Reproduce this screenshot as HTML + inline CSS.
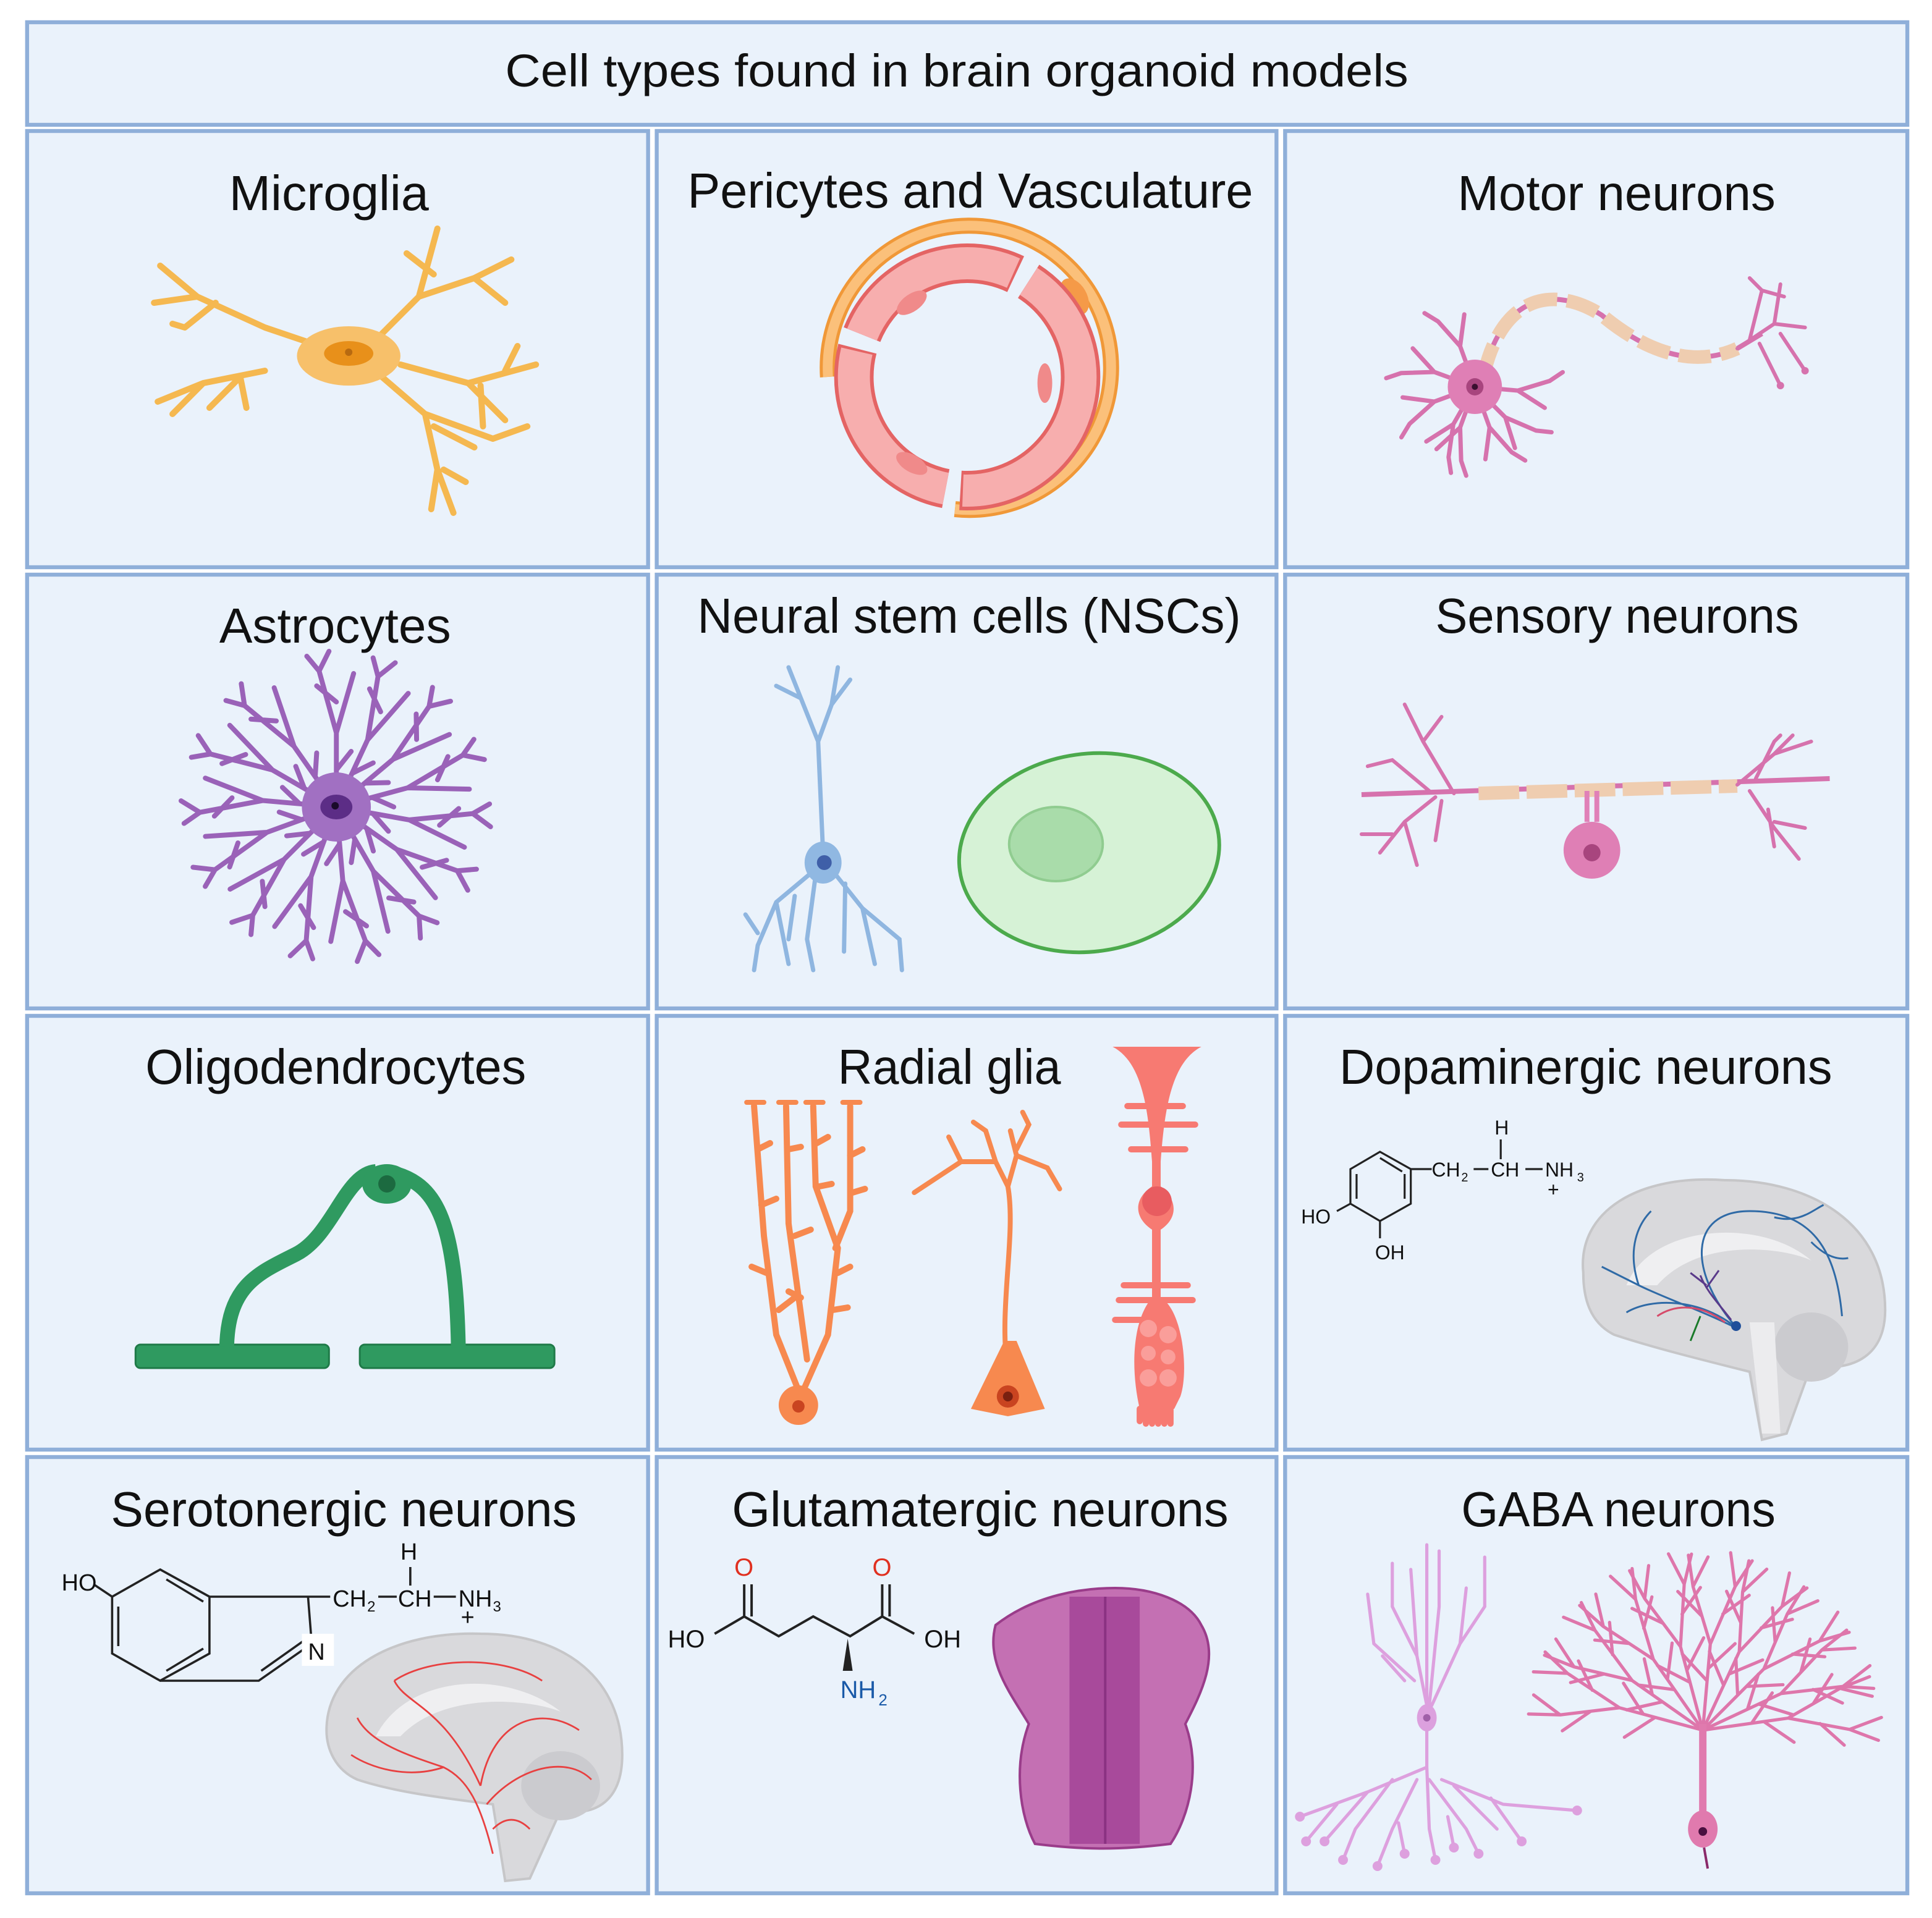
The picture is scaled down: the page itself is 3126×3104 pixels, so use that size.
<!DOCTYPE html>
<html><head><meta charset="utf-8"><style>
html,body{margin:0;padding:0;background:#fff}
svg{display:block}
text{font-family:"Liberation Sans",sans-serif;fill:#111}
</style></head><body>
<svg width="3126" height="3104" viewBox="0 0 3126 3104" xmlns="http://www.w3.org/2000/svg">
<defs>
<g id="ab"><path d="M0,0 L0,-60 L-14,-110 M0,-60 L14,-108 M0,-85 L-16,-98 M0,-30 L12,-45 M-14,-110 L-24,-122 M-14,-110 L-6,-126" fill="none" stroke="#9a62b8" stroke-width="4" stroke-linecap="round"/></g>
<g id="md"><path d="M0,0 L0,-35 L-10,-60 M0,-35 L12,-58 M-10,-60 L-18,-70" fill="none" stroke="#d672ad" stroke-width="3.5" stroke-linecap="round"/></g>
<g id="pk"><path d="M0,0 L0,-70 L-18,-115 M0,-70 L16,-118 M-9,-92 L-30,-110 M8,-95 L28,-112 M0,-40 L-22,-60 M0,-50 L20,-72 M-18,-115 L-24,-140 M-18,-115 L-8,-140 M16,-118 L10,-145 M16,-118 L28,-140" fill="none" stroke="#de76ab" stroke-width="2.6" stroke-linecap="round"/></g>
</defs>
<g transform="scale(1.9936,2)">
<!-- grid -->
<g fill="#eaf2fb" stroke="#8fafd9" stroke-width="3.2">
<rect x="22" y="18" width="1526" height="83"/>
<rect x="22" y="106" width="504" height="353"/><rect x="533" y="106" width="503" height="353"/><rect x="1043" y="106" width="505" height="353"/>
<rect x="22" y="465" width="504" height="351"/><rect x="533" y="465" width="503" height="351"/><rect x="1043" y="465" width="505" height="351"/>
<rect x="22" y="822" width="504" height="351"/><rect x="533" y="822" width="503" height="351"/><rect x="1043" y="822" width="505" height="351"/>
<rect x="22" y="1179" width="504" height="353"/><rect x="533" y="1179" width="503" height="353"/><rect x="1043" y="1179" width="505" height="353"/>
</g>
<!-- labels -->
<g font-size="40">
<text x="410" y="70" font-size="37" textLength="733" lengthAdjust="spacingAndGlyphs">Cell types found in brain organoid models</text>
<text x="186" y="170" textLength="162" lengthAdjust="spacingAndGlyphs">Microglia</text>
<text x="558" y="168" textLength="459" lengthAdjust="spacingAndGlyphs">Pericytes and Vasculature</text>
<text x="1183" y="170" textLength="258" lengthAdjust="spacingAndGlyphs">Motor neurons</text>
<text x="178" y="520" textLength="188" lengthAdjust="spacingAndGlyphs">Astrocytes</text>
<text x="566" y="512" textLength="441" lengthAdjust="spacingAndGlyphs">Neural stem cells (NSCs)</text>
<text x="1165" y="512" textLength="295" lengthAdjust="spacingAndGlyphs">Sensory neurons</text>
<text x="118" y="877" textLength="309" lengthAdjust="spacingAndGlyphs">Oligodendrocytes</text>
<text x="680" y="877" textLength="181" lengthAdjust="spacingAndGlyphs">Radial glia</text>
<text x="1087" y="877" textLength="400" lengthAdjust="spacingAndGlyphs">Dopaminergic neurons</text>
<text x="90" y="1235" textLength="378" lengthAdjust="spacingAndGlyphs">Serotonergic neurons</text>
<text x="594" y="1235" textLength="403" lengthAdjust="spacingAndGlyphs">Glutamatergic neurons</text>
<text x="1186" y="1235" textLength="255" lengthAdjust="spacingAndGlyphs">GABA neurons</text>
</g>

<!-- Microglia -->
<g fill="none" stroke="#f5b850" stroke-width="5" stroke-linecap="round" stroke-linejoin="round">
<path d="M283,288 L215,265 L160,240 L130,215 M160,240 L125,245 M175,245 L150,265 M150,265 L140,262 M215,300 L165,310 L128,325 M165,310 L140,335 M195,305 L170,330 M195,305 L200,330"/>
<path d="M305,275 L340,240 L355,185 M340,240 L385,225 L415,210 M385,225 L410,245 M352,222 L330,205"/>
<path d="M325,295 L380,310 L435,295 M380,310 L410,340 M390,312 L392,345 M410,300 L420,280"/>
<path d="M310,305 L345,335 L355,380 L368,415 M355,380 L350,412 M345,335 L400,355 L428,345 M352,345 L385,362 M360,380 L378,390"/>
</g>
<ellipse cx="283" cy="288" rx="42" ry="24" fill="#f7c06a"/>
<ellipse cx="283" cy="286" rx="20" ry="10" fill="#e8901a"/>
<circle cx="283" cy="285" r="3" fill="#b86a10"/>

<!-- Pericytes -->
<path d="M672,305 A115,115 0 1 1 775,412" fill="none" stroke="#f09838" stroke-width="13"/>
<path d="M672,305 A115,115 0 1 1 775,412" fill="none" stroke="#fbc07a" stroke-width="8"/>
<ellipse cx="872" cy="240" rx="10" ry="16" fill="#f59a48" transform="rotate(-30 872 240)"/>
<circle cx="785" cy="305" r="92" fill="none" stroke="#e46464" stroke-width="32" stroke-dasharray="150 12"/>
<circle cx="785" cy="305" r="92" fill="none" stroke="#f7aeae" stroke-width="26" stroke-dasharray="148 14"/>
<ellipse cx="740" cy="245" rx="14" ry="7" fill="#f08a8a" transform="rotate(-35 740 245)"/>
<ellipse cx="848" cy="310" rx="6" ry="16" fill="#f08a8a"/>
<ellipse cx="740" cy="375" rx="14" ry="7" fill="#f08a8a" transform="rotate(30 740 375)"/>

<!-- Motor neuron -->
<g>
<use href="#md" transform="translate(1197,313) rotate(-20)"/>
<use href="#md" transform="translate(1197,313) rotate(-70)"/>
<use href="#md" transform="translate(1197,313) rotate(-110)"/>
<use href="#md" transform="translate(1197,313) rotate(-150)"/>
<use href="#md" transform="translate(1197,313) rotate(160)"/>
<use href="#md" transform="translate(1197,313) rotate(200)"/>
<use href="#md" transform="translate(1197,313) rotate(135)"/>
<use href="#md" transform="translate(1197,313) rotate(95)"/>
<path d="M1205,300 C1220,240 1260,230 1300,255 C1330,280 1370,300 1410,282 L1430,270" fill="none" stroke="#d672ad" stroke-width="4"/>
<path d="M1205,300 C1220,240 1260,230 1300,255 C1330,280 1370,300 1410,282" fill="none" stroke="#efcdb0" stroke-width="11" stroke-dasharray="26 8" stroke-dashoffset="-30"/>
<path d="M1410,282 L1440,262 L1465,265 M1440,262 L1445,230 M1420,275 L1430,235 L1420,225 M1430,235 L1448,240 M1428,278 L1445,312 M1445,270 L1465,300" fill="none" stroke="#d672ad" stroke-width="3" stroke-linecap="round"/>
<circle cx="1465" cy="300" r="3" fill="#d672ad"/><circle cx="1445" cy="312" r="3" fill="#d672ad"/>
<circle cx="1197" cy="313" r="22" fill="#df7fb5"/>
<circle cx="1197" cy="313" r="7" fill="#a8457e"/><circle cx="1197" cy="313" r="2.5" fill="#3a1030"/>
</g>

<!-- Astrocyte -->
<g>
<use href="#ab" transform="translate(273,653) rotate(0)"/>
<use href="#ab" transform="translate(273,653) rotate(25)"/>
<use href="#ab" transform="translate(273,653) rotate(50)"/>
<use href="#ab" transform="translate(273,653) rotate(75)"/>
<use href="#ab" transform="translate(273,653) rotate(100)"/>
<use href="#ab" transform="translate(273,653) rotate(125)"/>
<use href="#ab" transform="translate(273,653) rotate(150)"/>
<use href="#ab" transform="translate(273,653) rotate(175)"/>
<use href="#ab" transform="translate(273,653) rotate(200)"/>
<use href="#ab" transform="translate(273,653) rotate(225)"/>
<use href="#ab" transform="translate(273,653) rotate(250)"/>
<use href="#ab" transform="translate(273,653) rotate(275)"/>
<use href="#ab" transform="translate(273,653) rotate(300)"/>
<use href="#ab" transform="translate(273,653) rotate(325)"/>
<circle cx="273" cy="653" r="28" fill="#a170c2"/>
<ellipse cx="273" cy="653" rx="13" ry="10" fill="#5c2d86"/><circle cx="272" cy="652" r="3" fill="#1a0a2a"/>
</g>

<!-- NSC neuron -->
<g fill="none" stroke="#8fb6e0" stroke-width="3.5" stroke-linecap="round">
<path d="M668,690 L664,600 L650,565 L630,555 M664,600 L675,570 L690,550 M650,565 L640,540 M675,570 L680,540"/>
<path d="M660,705 L630,730 L615,765 L612,785 M630,730 L640,780 M615,755 L605,740 M662,708 L655,760 L660,785 M676,705 L700,735 L710,780 M700,735 L730,760 L732,785 M686,715 L685,770 M645,725 L640,760"/>
</g>
<ellipse cx="668" cy="698" rx="15" ry="17" fill="#90b8e2"/>
<circle cx="669" cy="698" r="6" fill="#3f5fa8"/>
<!-- green cell -->
<ellipse cx="884" cy="690" rx="106" ry="80" fill="#d6f2d6" stroke="#4caa4c" stroke-width="3" transform="rotate(-8 884 690)"/>
<ellipse cx="857" cy="683" rx="38" ry="30" fill="#a9dcaa" stroke="#90cc90" stroke-width="2"/>

<!-- Sensory neuron -->
<path d="M1105,643 L1485,630" stroke="#d672ad" stroke-width="4"/>
<path d="M1200,642 L1410,636" stroke="#efcdb0" stroke-width="11" stroke-dasharray="33 6"/>
<g fill="none" stroke="#d672ad" stroke-width="3" stroke-linecap="round">
<path d="M1180,642 L1155,600 L1140,570 M1155,600 L1170,580 M1160,640 L1130,615 L1110,620 M1165,645 L1140,665 L1120,690 M1140,665 L1150,700 M1130,675 L1105,675 M1170,648 L1165,680"/>
<path d="M1410,635 L1440,610 L1455,595 M1440,610 L1470,600 M1425,630 L1440,600 L1445,595 M1420,640 L1440,670 L1460,695 M1440,665 L1465,670 M1435,655 L1440,685"/>
</g>
<path d="M1288,640 L1288,665 M1296,640 L1296,665" stroke="#e080b8" stroke-width="4"/>
<circle cx="1292" cy="688" r="23" fill="#df7fb5"/>
<circle cx="1292" cy="690" r="7" fill="#a8457e"/>

<!-- Oligodendrocyte -->
<g fill="#2f9a60" stroke="#1f7a48" stroke-width="1.5">
<rect x="110" y="1088" width="157" height="19" rx="4"/>
<rect x="292" y="1088" width="158" height="19" rx="4"/>
</g>
<path d="M184,1090 C185,1040 210,1030 240,1015 C270,1000 280,950 305,948 M322,950 C355,960 370,990 372,1090" fill="none" stroke="#2f9a60" stroke-width="12"/>
<ellipse cx="314" cy="958" rx="20" ry="16" fill="#2f9a60"/>
<circle cx="314" cy="958" r="7" fill="#1c6a40"/>

<!-- Radial glia left -->
<g fill="none" stroke="#f7894f" stroke-width="5" stroke-linecap="round">
<path d="M612,895 L620,1000 L630,1080 L648,1125 M638,895 L640,990 L655,1100 M660,895 L662,960 L680,1010 L672,1080 L652,1125 M690,895 L690,980 L678,1010"/>
<path d="M615,930 L625,925 M618,975 L630,970 M622,1030 L610,1025 M632,1060 L645,1050 M640,930 L650,928 M645,1000 L658,995 M650,1050 L640,1045 M663,925 L672,920 M665,960 L675,958 M680,1030 L690,1025 M676,1060 L688,1058 M690,935 L700,930 M692,965 L702,962"/>
<path d="M606,892 L620,892 M632,892 L646,892 M654,892 L668,892 M684,892 L698,892" stroke-width="4"/>
</g>
<ellipse cx="648" cy="1137" rx="16" ry="16" fill="#f7894f"/><circle cx="648" cy="1138" r="5" fill="#c94420"/>
<!-- Radial glia middle -->
<g fill="none" stroke="#f7894f" stroke-width="4" stroke-linecap="round">
<path d="M818,1110 C810,1060 825,1000 818,960 L808,940 M818,960 L825,935 L820,915 M808,940 L780,940 L742,965 M780,940 L770,920 M808,940 L800,915 L790,908 M825,935 L850,945 L860,962 M825,930 L835,910 L830,900"/>
</g>
<path d="M815,1085 L825,1085 L848,1140 L818,1146 L788,1140 Z" fill="#f7894f"/>
<circle cx="818" cy="1130" r="9" fill="#c94420"/><circle cx="818" cy="1130" r="4" fill="#7a2010"/>
<!-- Radial glia right -->
<g fill="#f77a72">
<path d="M903,847 L975,847 C950,860 945,900 942,940 L942,960 C955,970 957,985 942,995 L942,1050 C960,1060 965,1110 958,1130 L953,1140 L925,1140 C918,1110 918,1070 935,1050 L935,995 C920,985 920,970 935,960 L935,940 C932,900 928,860 903,847 Z"/>
</g>
<g stroke="#f77a72" stroke-width="5" stroke-linecap="round">
<path d="M915,895 L960,895 M910,910 L970,910 M918,930 L962,930 M912,1040 L964,1040 M908,1052 L968,1052 M905,1068 L935,1068 M925,1150 L925,1140 M930,1152 L930,1140 M935,1152 L935,1140 M940,1152 L940,1140 M945,1152 L945,1140 M950,1152 L950,1140"/>
</g>
<circle cx="939" cy="972" r="12" fill="#e85c60"/>
<g fill="#fa9e9a"><circle cx="932" cy="1075" r="7"/><circle cx="948" cy="1080" r="7"/><circle cx="932" cy="1095" r="6"/><circle cx="948" cy="1098" r="6"/><circle cx="932" cy="1115" r="7"/><circle cx="948" cy="1115" r="7"/></g>

<!-- Dopamine structure -->
<g fill="none" stroke="#222" stroke-width="1.6">
<path d="M1120,932 L1145,946 L1145,974 L1120,988 L1096,974 L1096,946 Z M1140,950 L1140,970 M1101,950 L1101,970 M1120,937 L1138,948"/>
<path d="M1145,946 L1162,946 M1196,946 L1208,946 M1238,946 L1252,946 M1218,922 L1218,938 M1096,974 L1085,980 M1120,988 L1120,1002"/>
</g>
<g font-size="16">
<text x="1162" y="952">CH</text><text x="1186" y="956" font-size="10">2</text>
<text x="1210" y="952">CH</text><text x="1254" y="952">NH</text><text x="1280" y="956" font-size="10">3</text>
<text x="1213" y="918">H</text><text x="1256" y="968">+</text>
<text x="1056" y="990">HO</text><text x="1116" y="1019">OH</text>
</g>
<!-- Dopamine brain -->
<path d="M1285,1030 C1280,980 1330,950 1400,955 C1470,955 1530,990 1530,1060 C1530,1100 1500,1110 1470,1105 L1450,1160 L1430,1165 L1420,1110 C1380,1100 1340,1090 1310,1080 C1290,1070 1285,1050 1285,1030 Z" fill="#d9d9dc" stroke="#c6c6c8" stroke-width="2"/>
<path d="M1320,1040 C1340,990 1430,985 1470,1020 C1450,1010 1380,1000 1345,1040 Z" fill="#efeff1"/>
<ellipse cx="1470" cy="1090" rx="30" ry="28" fill="#cbcbcf"/>
<path d="M1420,1070 L1430,1160 L1445,1160 L1440,1070 Z" fill="#ececee"/>
<g fill="none" stroke="#2f6aa6" stroke-width="1.5">
<path d="M1410,1075 C1380,1060 1350,1050 1330,1040 C1320,1010 1330,990 1340,980 M1410,1075 C1370,1030 1370,980 1420,980 C1470,980 1490,1010 1495,1065 M1440,985 C1460,990 1470,980 1480,975 M1470,1005 C1480,1015 1490,1020 1500,1018 M1330,1040 L1300,1025 M1410,1075 C1380,1050 1340,1050 1320,1062"/>
</g>
<path d="M1400,1070 C1380,1055 1360,1055 1345,1065" fill="none" stroke="#d64a6a" stroke-width="1.5"/>
<path d="M1405,1068 C1395,1055 1385,1045 1380,1032 M1385,1040 L1372,1030 M1385,1042 L1395,1028" fill="none" stroke="#5a3a8a" stroke-width="1.5"/>
<path d="M1380,1065 L1372,1085" stroke="#1a7a2a" stroke-width="1.5"/>
<circle cx="1409" cy="1073" r="4" fill="#1f4f9a"/>

<!-- Serotonin structure -->
<g fill="none" stroke="#222" stroke-width="1.8">
<path d="M130,1270 L170,1292 L170,1338 L130,1360 L91,1338 L91,1292 Z M96,1300 L96,1332 M135,1278 L165,1296 M135,1352 L165,1334"/>
<path d="M170,1292 L250,1292 L253,1330 L210,1360 L130,1360 M212,1352 L246,1328 M250,1292 L268,1292 M76,1282 L91,1292 M307,1292 L322,1292 M352,1292 L370,1292 M333,1268 L333,1283"/>
</g>
<rect x="245" y="1322" width="26" height="26" fill="#fff"/>
<g font-size="19">
<text x="50" y="1287">HO</text><text x="250" y="1343">N</text>
<text x="270" y="1300">CH</text><text x="298" y="1304" font-size="12">2</text>
<text x="323" y="1300">CH</text><text x="372" y="1300">NH</text><text x="400" y="1304" font-size="12">3</text>
<text x="325" y="1262">H</text><text x="374" y="1315">+</text>
</g>
<!-- Serotonin brain -->
<path d="M265,1400 C265,1350 320,1320 390,1322 C460,1322 505,1360 505,1420 C505,1460 480,1470 455,1465 L430,1520 L410,1522 L400,1460 C360,1455 320,1450 290,1440 C272,1432 265,1415 265,1400 Z" fill="#d9d9dc" stroke="#c6c6c8" stroke-width="2"/>
<path d="M305,1405 C330,1355 410,1350 455,1385 C430,1375 360,1368 325,1405 Z" fill="#efeff1"/>
<ellipse cx="455" cy="1445" rx="32" ry="28" fill="#cbcbcf"/>
<g fill="none" stroke="#e84040" stroke-width="1.4">
<path d="M400,1500 C390,1460 380,1440 360,1430 C330,1420 300,1410 290,1390 M390,1445 C360,1380 330,1380 320,1360 M390,1445 C400,1390 440,1380 470,1400 M395,1460 C420,1430 460,1420 480,1440 M360,1430 C330,1440 300,1430 285,1420 M320,1360 C350,1340 410,1340 440,1360 M400,1480 C410,1470 420,1470 430,1480"/>
</g>

<!-- Glutamate -->
<g fill="none" stroke="#222" stroke-width="2">
<path d="M580,1322 L604,1308 L632,1324 L660,1308 L690,1324 L716,1308 L742,1322 M604,1308 L604,1282 M610,1308 L610,1282 M716,1308 L716,1282 M722,1308 L722,1282"/>
</g>
<path d="M688,1326 L684,1352 L692,1352 Z" fill="#222"/>
<g font-size="20">
<text x="542" y="1333">HO</text><text x="750" y="1333">OH</text>
<text x="596" y="1275" fill="#e03020" style="fill:#e03020">O</text><text x="708" y="1275" style="fill:#e03020">O</text>
<text x="682" y="1374" style="fill:#1a5aa8">NH</text><text x="713" y="1380" font-size="13" style="fill:#1a5aa8">2</text>
</g>
<path d="M808,1315 C840,1290 880,1285 905,1285 C935,1285 965,1295 975,1315 C990,1340 975,1370 962,1395 C975,1430 965,1470 950,1492 C910,1497 880,1497 840,1492 C828,1470 822,1430 835,1395 C820,1370 800,1345 808,1315 Z" fill="#c470b3" stroke="#9a3c8a" stroke-width="2"/>
<path d="M868,1292 L925,1292 L925,1492 L868,1492 Z" fill="#a84a9b"/>
<path d="M897,1292 L897,1492" stroke="#8a3282" stroke-width="2"/>

<!-- GABA left neuron -->
<g fill="none" stroke="#dda0de" stroke-width="2.6" stroke-linecap="round">
<path d="M1158,1380 L1150,1340 L1130,1300 L1130,1265 M1150,1340 L1145,1270 M1158,1380 L1158,1250 M1160,1380 L1168,1300 L1168,1255 M1162,1380 L1185,1330 L1190,1285 M1185,1330 L1205,1300 L1205,1260 M1148,1360 L1115,1330 L1110,1290 M1140,1360 L1122,1340"/>
<path d="M1158,1400 L1158,1430 L1110,1450 L1055,1470 M1110,1450 L1075,1490 M1130,1440 L1100,1480 L1090,1505 M1150,1440 L1130,1480 L1118,1510 M1158,1430 L1160,1480 L1165,1505 M1160,1440 L1190,1480 L1200,1500 M1170,1440 L1220,1460 L1280,1465 M1210,1455 L1235,1490 M1180,1445 L1215,1480 M1135,1475 L1140,1500 M1175,1470 L1180,1495 M1085,1460 L1060,1490"/>
</g>
<g fill="#dda0de"><circle cx="1055" cy="1470" r="4"/><circle cx="1075" cy="1490" r="4"/><circle cx="1090" cy="1505" r="4"/><circle cx="1118" cy="1510" r="4"/><circle cx="1165" cy="1505" r="4"/><circle cx="1200" cy="1500" r="4"/><circle cx="1280" cy="1465" r="4"/><circle cx="1235" cy="1490" r="4"/><circle cx="1060" cy="1490" r="4"/><circle cx="1140" cy="1500" r="4"/><circle cx="1180" cy="1495" r="4"/></g>
<ellipse cx="1158" cy="1390" rx="8" ry="11" fill="#dca0de"/><circle cx="1158" cy="1390" r="3" fill="#a060a8"/>
<!-- Purkinje -->
<g>
<use href="#pk" transform="translate(1382,1400) rotate(-75)"/>
<use href="#pk" transform="translate(1382,1400) rotate(-55)"/>
<use href="#pk" transform="translate(1382,1400) rotate(-35)"/>
<use href="#pk" transform="translate(1382,1400) rotate(-15)"/>
<use href="#pk" transform="translate(1382,1400) rotate(5)"/>
<use href="#pk" transform="translate(1382,1400) rotate(25)"/>
<use href="#pk" transform="translate(1382,1400) rotate(45)"/>
<use href="#pk" transform="translate(1382,1400) rotate(65)"/>
<use href="#pk" transform="translate(1382,1400) rotate(82)"/>
<path d="M1382,1470 L1382,1395" stroke="#e07aae" stroke-width="6"/>
<path d="M1383,1495 L1386,1512" stroke="#8a2a6a" stroke-width="2"/>
<ellipse cx="1382" cy="1480" rx="12" ry="15" fill="#e07aae"/>
<circle cx="1382" cy="1482" r="3.5" fill="#4a1040"/>
</g>
</g>
</svg>
</body></html>
